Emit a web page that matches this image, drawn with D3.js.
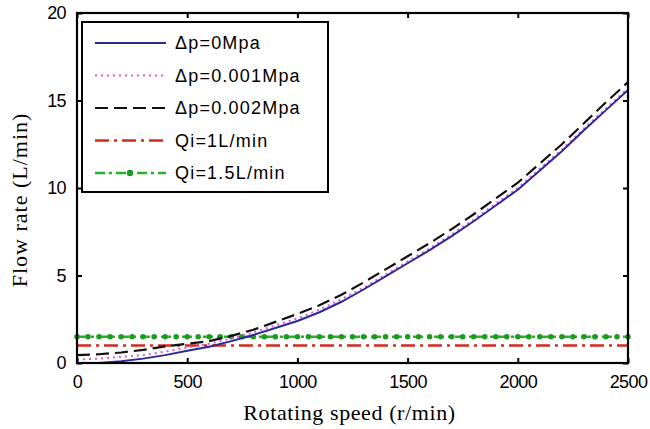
<!DOCTYPE html>
<html>
<head>
<meta charset="utf-8">
<script src="https://cdn.jsdelivr.net/npm/d3@7"></script>
<style>
  body{margin:0;background:#fff;}
  svg{display:block;}
  .tick text{font-family:"Liberation Sans",Arial,sans-serif;font-size:18px;letter-spacing:-0.6px;fill:#000;}
</style>
</head>
<body>
<svg width="650" height="429"></svg>
<script>
// rotating speed (r/min)
var speed=[0,100,200,300,400,500,600,700,800,900,1000,1100,1200,1300,1400,1500,1600,1700,1800,1900,2000,2100,2200,2300,2400,2500];
// flow rate (L/min) for each pressure difference
var dp0   =[0,0,0.1,0.25,0.45,0.7,0.93,1.25,1.6,2.0,2.4,2.9,3.5,4.2,4.95,5.7,6.45,7.25,8.1,9.0,9.9,11.0,12.1,13.3,14.45,15.6];
var dp001 =[0.2,0.25,0.35,0.45,0.65,0.88,1.1,1.4,1.75,2.15,2.55,3.05,3.65,4.3,5.05,5.8,6.55,7.35,8.2,9.1,10.0,11.1,12.2,13.4,14.55,15.7];
var dp002 =[0.45,0.5,0.6,0.75,0.95,1.1,1.25,1.55,1.9,2.35,2.8,3.3,3.9,4.6,5.35,6.1,6.85,7.65,8.5,9.4,10.3,11.4,12.5,13.7,14.9,16.05];
var qi1=1, qi15=1.5;
var qiSpeeds=d3.range(0,2501,50);
var xTicks=[0,500,1000,1500,2000,2500];
var yTicks=[0,5,10,15,20];
var legendNames=["\u0394p=0Mpa","\u0394p=0.001Mpa","\u0394p=0.002Mpa","Qi=1L/min","Qi=1.5L/min"];

var svg=d3.select("svg");
var m={left:77,right:22,top:13,bottom:66};
var w=650-m.left-m.right, h=429-m.top-m.bottom;

var x=d3.scaleLinear().domain([0,2500]).range([0,w]);
var y=d3.scaleLinear().domain([0,20]).range([h,0]);

var plot=svg.append("g").attr("transform","translate("+m.left+","+m.top+")");

var styles=[
  {color:"#2a2a96",dash:null,width:2},
  {color:"#e055e0",dash:"2,4",width:2},
  {color:"#111",dash:"13,6",width:2.2},
  {color:"#d42a1e",dash:"14,5,3,5",width:2.5},
  {color:"#27b327",dash:"10,4,3,4",width:2.5}
];

var line=d3.line().x(function(d){return x(d[0]);}).y(function(d){return y(d[1]);});

var series=[dp0,dp001,dp002];
// constant inflow lines first (drawn under curves)
[[qi1,3],[qi15,4]].forEach(function(q){
  var s=styles[q[1]];
  plot.append("path")
    .attr("d",line([[0,q[0]],[2500,q[0]]]))
    .attr("fill","none").attr("stroke",s.color)
    .attr("stroke-width",s.width).attr("stroke-dasharray",s.dash);
});
plot.selectAll("circle.mk").data(qiSpeeds).enter().append("circle")
  .attr("class","mk")
  .attr("cx",function(d){return x(d);})
  .attr("cy",y(qi15)).attr("r",2.8).attr("fill","#1f9a1f");

[2,1,0].forEach(function(i){
  var s=styles[i];
  plot.append("path")
    .attr("d",line(speed.map(function(v,k){return [v,series[i][k]];})))
    .attr("fill","none").attr("stroke",s.color)
    .attr("stroke-width",s.width).attr("stroke-dasharray",s.dash);
});

// axes with inward ticks on all sides
var ax=function(a){return a.tickSizeInner(-5).tickSizeOuter(0);};
plot.append("g").attr("transform","translate(0,"+h+")")
  .call(ax(d3.axisBottom(x).tickValues(xTicks).tickFormat(d3.format("d"))).tickPadding(12))
  .call(function(g){g.select(".domain").remove();});
plot.append("g")
  .call(ax(d3.axisLeft(y).tickValues(yTicks)).tickPadding(11))
  .call(function(g){g.select(".domain").remove();});
plot.append("g")
  .call(ax(d3.axisTop(x).tickValues(xTicks)).tickFormat(""))
  .call(function(g){g.select(".domain").remove();});
plot.append("g").attr("transform","translate("+w+",0)")
  .call(ax(d3.axisRight(y).tickValues(yTicks)).tickFormat(""))
  .call(function(g){g.select(".domain").remove();});
plot.selectAll(".tick line").attr("stroke","#000").attr("stroke-width",2);
plot.append("rect").attr("width",w).attr("height",h)
  .attr("fill","none").attr("stroke","#000").attr("stroke-width",2.2);

// legend
var lg=plot.append("g").attr("transform","translate(5,9)");
lg.append("rect").attr("width",246).attr("height",170)
  .attr("fill","#fff").attr("stroke","#000").attr("stroke-width",2);
legendNames.forEach(function(n,i){
  var s=styles[i], yy=21+i*32.5;
  lg.append("line").attr("x1",13).attr("x2",84).attr("y1",yy).attr("y2",yy)
    .attr("stroke",s.color).attr("stroke-width",s.width).attr("stroke-dasharray",s.dash);
  if(i==4) lg.append("circle").attr("cx",48).attr("cy",yy).attr("r",3.2).attr("fill","#1f9a1f");
  lg.append("text").attr("x",93).attr("y",yy).attr("dy","0.36em")
    .attr("font-family","Liberation Sans,Arial,sans-serif").attr("font-size",18)
    .attr("letter-spacing","1.2px").text(n);
});

// axis titles
svg.append("text").attr("x",m.left+w/2-3).attr("y",420).attr("text-anchor","middle")
  .attr("font-family","Liberation Serif,Times New Roman,serif").attr("font-size",22)
  .attr("letter-spacing","0.6px")
  .text("Rotating speed (r/min)");
svg.append("text").attr("transform","translate(27,200) rotate(-90)").attr("text-anchor","middle")
  .attr("font-family","Liberation Serif,Times New Roman,serif").attr("font-size",22)
  .attr("letter-spacing","1px")
  .text("Flow rate (L/min)");
</script>
</body>
</html>
